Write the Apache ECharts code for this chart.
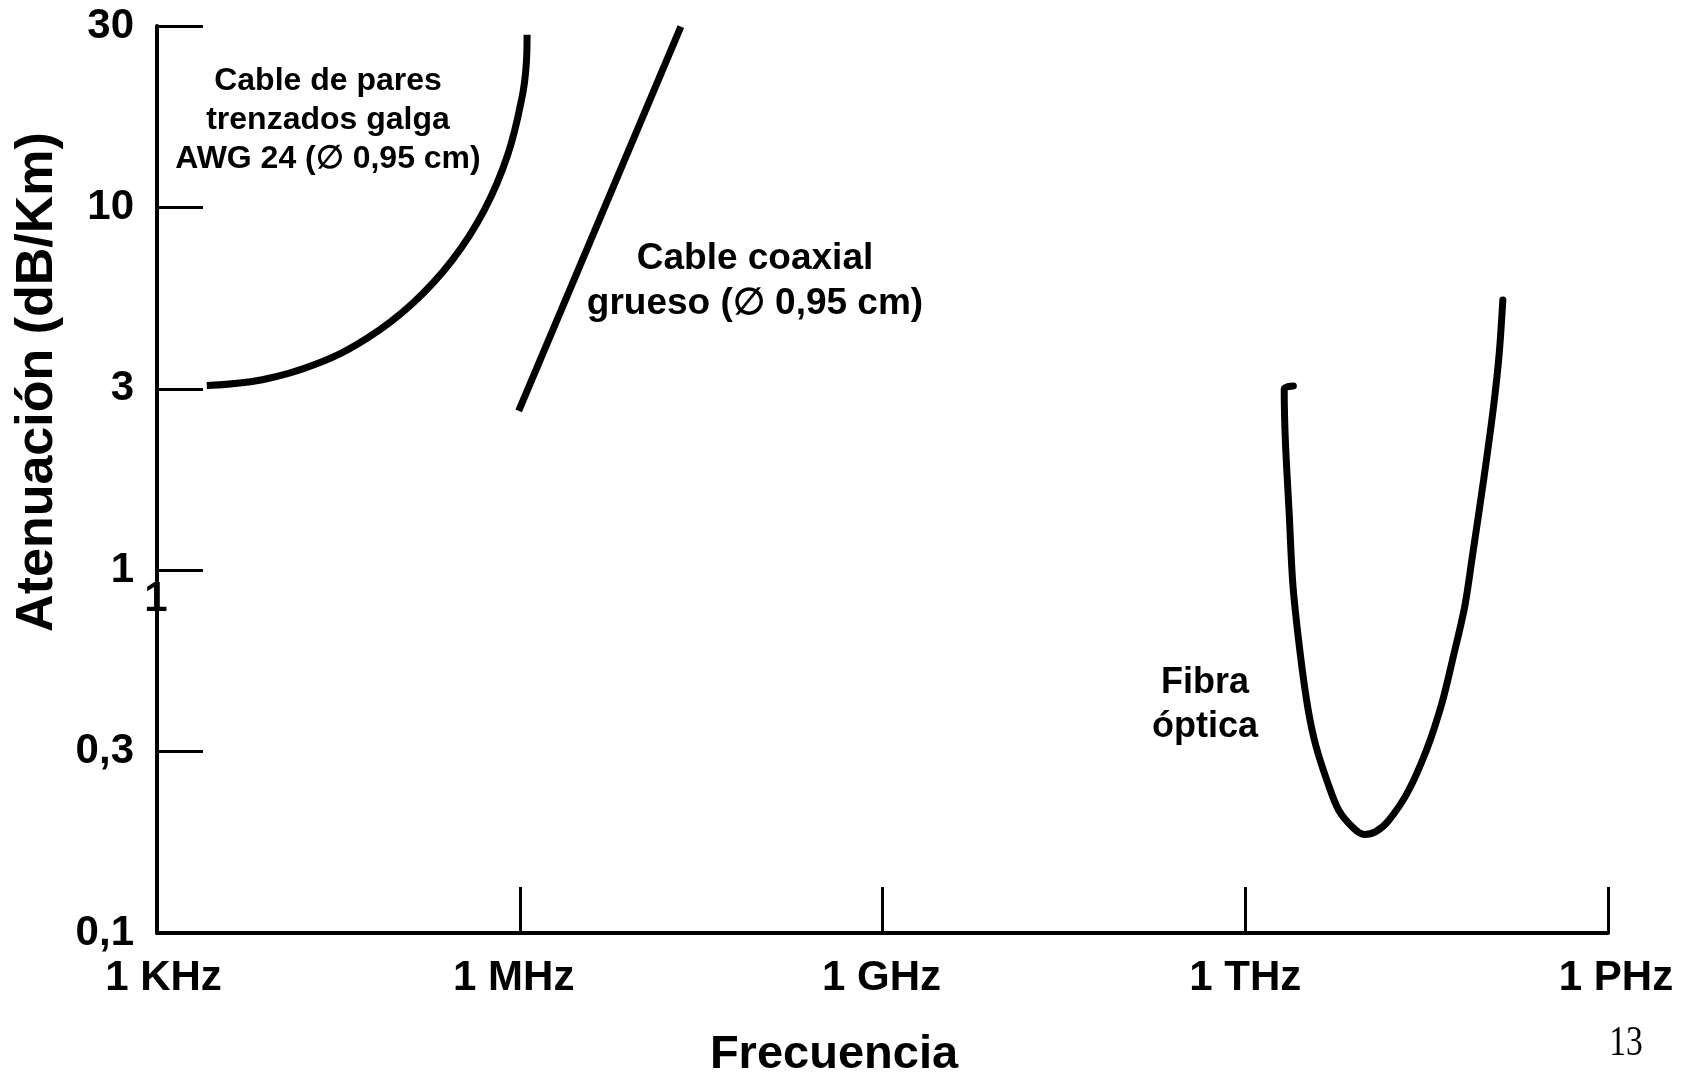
<!DOCTYPE html>
<html>
<head>
<meta charset="utf-8">
<style>
  html, body { margin: 0; padding: 0; background: #ffffff; }
  #chart { width: 1686px; height: 1073px; }
</style>
<script src="https://cdn.jsdelivr.net/npm/echarts@6/dist/echarts.min.js"></script>
</head>
<body>
<div id="chart"></div>
<script>
// ---- Data (frequency in Hz, attenuation in dB/Km) ----
const xTickLabels = ['1 KHz', '1 MHz', '1 GHz', '1 THz', '1 PHz'];
const yTickLabels = ['0,1', '0,3', '1', '3', '10', '30'];

const paresFreq = [2.58e3, 7.43e3, 2.07e4, 5.46e4, 1.30e5, 2.76e5, 5.09e5, 7.96e5, 1.05e6, 1.13e6, 1.15e6];
const paresAten = [3.23, 3.35, 3.70, 4.36, 5.44, 7.15, 9.83, 13.98, 20.3, 24.6, 29.9];

const coaxFreq = [9.8e5, 2.15e7];
const coaxAten = [2.75, 31.5];

const fibraFreq = [2.50e12, 2.10e12, 2.15e12, 2.31e12, 2.48e12, 2.87e12, 3.32e12, 3.84e12, 4.78e12, 5.93e12, 7.94e12, 9.66e12, 1.19e13, 1.53e13, 2.20e13, 3.16e13, 4.23e13, 5.25e13, 6.53e13, 7.55e13, 9.40e13, 1.13e14, 1.26e14, 1.35e14];
const fibraAten = [3.22, 3.16, 2.25, 1.43, 0.908, 0.577, 0.411, 0.328, 0.261, 0.218, 0.194, 0.187, 0.190, 0.204, 0.244, 0.320, 0.430, 0.577, 0.793, 1.09, 1.79, 2.82, 3.96, 5.56];

const labelPares = 'Cable de pares\ntrenzados galga\nAWG 24 (\u2205 0,95 cm)';
const labelCoax = 'Cable coaxial\ngrueso (\u2205 0,95 cm)';
const labelFibra = 'Fibra\n\u00f3ptica';
const xTitle = 'Frecuencia';
const yTitle = 'Atenuaci\u00f3n (dB/Km)';
const pageNumber = '13';

function zip(a, b) { return a.map((v, i) => [v, b[i]]); }

const chart = echarts.init(document.getElementById('chart'), null, { renderer: 'canvas' });
const FONT = 'Liberation Sans, Arial, sans-serif';
const xLabelRich = {};
// small per-label horizontal/vertical nudges seen in the reference
const xLabelPad = [[0, 0, 0, 13], [0, 12, 0, 0], [0, 2, 0, 0], [0, 0, 8, 0], [0, 0, 0, 16]];
xLabelPad.forEach((p, i) => {
  xLabelRich['l' + i] = { color: '#000', fontFamily: FONT, fontWeight: 'bold', fontSize: 42, padding: p };
});

const option = {
  backgroundColor: '#ffffff',
  animation: false,
  grid: { left: 157, right: 78, top: 26, bottom: 140, outerBoundsMode: 'none', containLabel: false },
  xAxis: {
    type: 'log',
    logBase: 1000,
    min: 1e3,
    max: 1e15,
    splitLine: { show: false },
    axisLine: { show: true, lineStyle: { color: '#000', width: 4 } },
    axisTick: { show: true, inside: true, length: 46, lineStyle: { color: '#000', width: 3 } },
    minorTick: { show: false },
    axisLabel: {
      color: '#000', fontFamily: FONT, fontWeight: 'bold', fontSize: 42, margin: 24,
      rich: xLabelRich,
      formatter: function (v) {
        const i = Math.round(Math.log10(v) / 3) - 1;
        return xTickLabels[i] !== undefined ? '{l' + i + '|' + xTickLabels[i] + '}' : '';
      }
    }
  },
  yAxis: {
    type: 'log',
    logBase: Math.sqrt(10),
    min: 0.1,
    max: Math.pow(10, 1.5),
    splitLine: { show: false },
    axisLine: { show: true, lineStyle: { color: '#000', width: 4 } },
    axisTick: { show: true, inside: true, length: 46, lineStyle: { color: '#000', width: 3 } },
    minorTick: { show: false },
    axisLabel: {
      color: '#000', fontFamily: FONT, fontWeight: 'bold', fontSize: 42, margin: 23,
      formatter: function (v) {
        const i = Math.round(Math.log10(v) * 2) + 2;
        return yTickLabels[i] !== undefined ? yTickLabels[i] : '';
      }
    }
  },
  series: [
    {
      name: 'pares', type: 'line', data: zip(paresFreq, paresAten),
      showSymbol: false, smooth: 0.4,
      lineStyle: { color: '#000', width: 7 }
    },
    {
      name: 'coax', type: 'line', data: zip(coaxFreq, coaxAten),
      showSymbol: false,
      lineStyle: { color: '#000', width: 7 }
    },
    {
      name: 'fibra', type: 'line', data: zip(fibraFreq, fibraAten),
      showSymbol: false, smooth: 0.3,
      lineStyle: { color: '#000', width: 7, join: 'round', cap: 'round' }
    }
  ],
  graphic: [
    { type: 'text', x: 328, y: 120, style: { text: labelPares, font: 'bold 32px ' + FONT, fill: '#000', align: 'center', verticalAlign: 'middle', lineHeight: 39 } },
    { type: 'text', x: 755, y: 281, style: { text: labelCoax, font: 'bold 37px ' + FONT, fill: '#000', align: 'center', verticalAlign: 'middle', lineHeight: 45 } },
    { type: 'text', x: 1205, y: 705, style: { text: labelFibra, font: 'bold 36px ' + FONT, fill: '#000', align: 'center', verticalAlign: 'middle', lineHeight: 44 } },
    { type: 'text', x: 834, y: 1055, style: { text: xTitle, font: 'bold 47px ' + FONT, fill: '#000', align: 'center', verticalAlign: 'middle' } },
    { type: 'text', x: 38, y: 382, rotation: Math.PI / 2, style: { text: yTitle, font: 'bold 52px ' + FONT, fill: '#000', align: 'center', verticalAlign: 'middle' } },
    { type: 'text', x: 1626, y: 1044, scaleX: 0.8, style: { text: pageNumber, font: '42px Liberation Serif, Times New Roman, serif', fill: '#000', align: 'center', verticalAlign: 'middle' } },
    { type: 'text', x: 156, y: 599, style: { text: '1', font: 'bold 42px ' + FONT, fill: '#000', align: 'center', verticalAlign: 'middle' } }
  ]
};

chart.setOption(option);
</script>
</body>
</html>
